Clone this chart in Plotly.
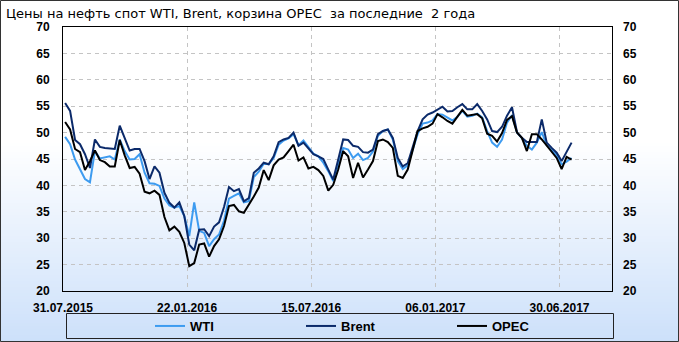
import pandas as pd
import plotly.graph_objects as go

# ---------------- data (weekly) ----------------
start_date = "2015-08-03"
n_weeks = 103

wti = [49.2, 47.8, 44.9, 43.0, 41.2, 40.6, 46.5, 45.1, 45.3, 45.5,
       44.9, 48.7, 46.5, 44.9, 45.0, 45.9, 42.4, 40.4, 40.3, 39.9,
       37.5, 36.2, 35.8, 36.1, 34.2, 30.4, 36.8, 31.4, 31.0, 28.5,
       29.8, 30.7, 33.3, 37.5, 38.0, 38.5, 36.8, 37.0, 41.6, 42.6,
       44.1, 44.0, 45.2, 47.7, 48.5, 48.9, 49.7, 47.6, 48.5, 47.3,
       46.0, 45.5, 44.3, 42.7, 40.8, 44.0, 47.1, 46.8, 45.2, 46.0,
       44.8, 45.2, 46.4, 49.4, 50.3, 50.6, 48.7, 44.6, 43.1, 43.8,
       47.0, 49.7, 51.7, 51.9, 52.3, 53.5, 53.4, 52.9, 52.3, 53.0,
       54.1, 53.0, 53.2, 53.6, 52.9, 50.3, 48.1, 47.3, 48.7, 51.9,
       53.3, 50.0, 48.9, 47.5, 46.8, 48.1, 50.1, 47.6, 46.6, 45.7,
       44.0, 44.5, 45.2]

brent = [55.6, 54.1, 48.6, 47.8, 45.9, 43.3, 48.7, 47.3, 47.1, 47.0,
         46.9, 51.3, 49.0, 46.6, 46.9, 46.9, 44.6, 41.2, 43.6, 42.4,
         38.6, 36.7, 35.8, 36.8, 34.2, 28.8, 27.7, 31.6, 31.7, 30.4,
         32.2, 33.0, 35.9, 39.7, 38.9, 39.3, 37.0, 37.6, 42.4, 43.2,
         44.3, 44.0, 45.5, 48.2, 48.7, 49.0, 50.0, 47.5, 48.1, 46.9,
         45.9, 45.5, 45.0, 43.0, 41.1, 44.9, 48.7, 48.6, 47.5, 47.3,
         46.3, 46.2, 46.8, 49.7, 50.3, 50.6, 49.0, 45.2, 43.6, 44.2,
         47.5, 50.3, 52.5, 53.4, 53.8, 54.3, 54.9, 54.0, 54.1, 54.8,
         55.4, 54.4, 54.4, 55.4, 54.1, 52.5, 50.3, 50.1, 51.1, 53.2,
         54.8, 50.1, 49.0, 48.2, 48.2, 48.2, 52.5, 48.1, 47.1, 46.2,
         44.6, 46.3, 48.1]

opec = [52.0, 50.6, 46.9, 46.3, 42.9, 44.6, 46.6, 44.8, 44.4, 43.6,
        43.6, 48.6, 45.7, 43.3, 43.5, 42.2, 38.8, 38.5, 39.0, 38.2,
        34.0, 31.5, 32.2, 31.2, 29.1, 24.7, 25.3, 28.8, 29.0, 26.5,
        28.5, 29.8, 32.3, 36.1, 36.3, 35.1, 34.8, 36.3, 37.9, 39.6,
        42.9, 41.0, 43.8, 44.9, 45.3, 46.5, 47.7, 44.7, 45.3, 43.2,
        43.5, 42.9, 41.8, 39.0, 40.1, 43.0, 46.5, 45.5, 41.4, 44.3,
        41.5, 43.0, 44.6, 48.4, 48.7, 48.2, 47.1, 41.8, 41.4, 43.0,
        46.8, 50.3, 50.8, 51.1, 51.7, 53.5, 52.9, 52.2, 51.7, 52.9,
        54.3, 53.2, 53.3, 53.5, 52.7, 49.8, 49.4, 48.3, 49.9, 52.4,
        53.1, 50.0, 49.0, 46.5, 49.7, 49.7, 48.7, 47.5, 46.2, 45.2,
        43.1, 45.4, 44.9]

tick_dates = ["2015-07-31", "2016-01-22", "2016-07-15", "2017-01-06", "2017-06-30"]
tick_labels = ["31.07.2015", "22.01.2016", "15.07.2016", "06.01.2017", "30.06.2017"]
y_ticks = [20, 25, 30, 35, 40, 45, 50, 55, 60, 65, 70]

dates = pd.date_range(start_date, periods=n_weeks, freq="7D")

# ---------------- layout helpers ----------------
W, H = 679, 342
L, R, T, B = 63, 612, 27, 291


def xp(px):
    return (px - L) / (R - L)


def yp(py):
    return (B - py) / (B - T)


FONT = "Liberation Sans"
TICKFONT = dict(family=FONT, size=12, color="black", weight="bold")

fig = go.Figure()
fig.add_trace(go.Scatter(x=dates, y=wti, name="WTI", mode="lines",
                         line=dict(color="#3d9bf0", width=2)))
fig.add_trace(go.Scatter(x=dates, y=brent, name="Brent", mode="lines",
                         line=dict(color="#0b2a6a", width=2)))
fig.add_trace(go.Scatter(x=dates, y=opec, name="OPEC", mode="lines",
                         line=dict(color="#000000", width=2)))
# carrier for the right-hand value axis (no visible marks)
fig.add_trace(go.Scatter(x=[dates[0]], y=[None], yaxis="y2", mode="lines",
                         showlegend=False, hoverinfo="skip"))

shapes = []
# background gradient (white -> light blue)
g0, g1 = 140, 342
step = 3
top_c = (255, 255, 255)
bot_c = (204, 224, 250)
py = g0
while py < g1:
    t = (py - g0) / (g1 - g0)
    c = tuple(round(top_c[i] + (bot_c[i] - top_c[i]) * t) for i in range(3))
    shapes.append(dict(type="rect", xref="paper", yref="paper", layer="below",
                       x0=xp(0), x1=xp(W), y0=yp(py + step + 0.5), y1=yp(py),
                       fillcolor="rgb(%d,%d,%d)" % c, line=dict(width=0)))
    py += step
# outer border
shapes.append(dict(type="rect", xref="paper", yref="paper", layer="above",
                   x0=xp(0.5), x1=xp(W - 0.5), y0=yp(H - 0.5), y1=yp(0.5),
                   line=dict(color="#333333", width=1)))
# legend box
shapes.append(dict(type="rect", xref="paper", yref="paper", layer="above",
                   x0=xp(66.5), x1=xp(613.5), y0=yp(338.5), y1=yp(313.5),
                   line=dict(color="#222222", width=1)))

fig.update_layout(
    width=W, height=H,
    margin=dict(l=L, r=W - R, t=T, b=H - B, autoexpand=False),
    paper_bgcolor="white",
    plot_bgcolor="rgba(0,0,0,0)",
    shapes=shapes,
    title=dict(text="Цены на нефть спот WTI, Brent, корзина OPEC \u00a0за последние \u00a02 года",
               x=6 / W, xanchor="left", y=1 - 13 / H, yanchor="middle",
               font=dict(family="DejaVu Sans", size=13, color="black")),
    xaxis=dict(type="date", range=["2015-07-31", "2017-09-12"],
               tickvals=tick_dates, ticktext=tick_labels,
               showgrid=True, gridcolor="#c4c4c4", griddash="4px,4px", gridwidth=1,
               showline=True, linecolor="black", linewidth=1, mirror=True,
               ticks="", ticklabelstandoff=6, tickfont=TICKFONT,
               zeroline=False),
    yaxis=dict(range=[20, 70], tickvals=y_ticks,
               showgrid=True, gridcolor="#c4c4c4", griddash="4px,4px", gridwidth=1,
               showline=True, linecolor="black", linewidth=1, mirror=True,
               ticks="", ticklabelstandoff=10, tickfont=TICKFONT,
               zeroline=False),
    yaxis2=dict(range=[20, 70], tickvals=y_ticks, overlaying="y", side="right",
                anchor="x", showgrid=False, showline=False, ticks="",
                ticklabelstandoff=10, tickfont=TICKFONT, zeroline=False),
    legend=dict(orientation="h", x=xp(150), xanchor="left",
                y=yp(326), yanchor="middle",
                bgcolor="rgba(0,0,0,0)", borderwidth=0,
                entrywidth=106, entrywidthmode="pixels",
                font=dict(family=FONT, size=13, color="black", weight="bold")),
    showlegend=True,
)

fig.write_html("out.html")
